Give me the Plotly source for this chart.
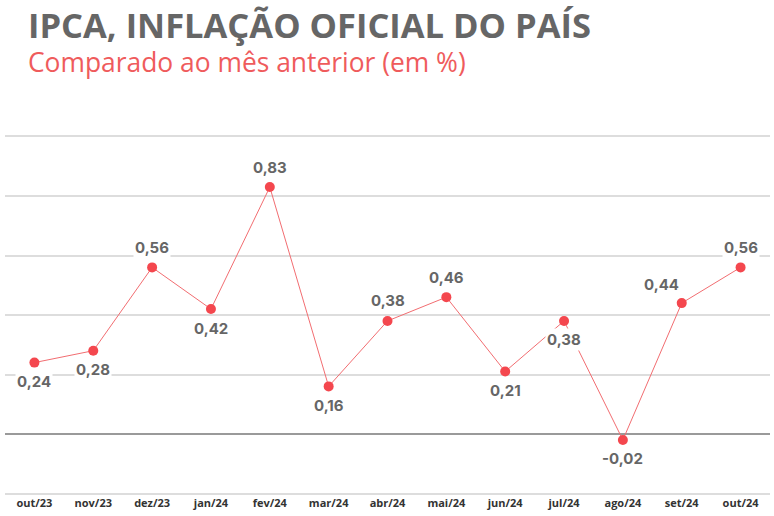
import plotly.graph_objects as go

months = ["out/23", "nov/23", "dez/23", "jan/24", "fev/24", "mar/24", "abr/24",
          "mai/24", "jun/24", "jul/24", "ago/24", "set/24", "out/24"]
ipca = [0.24, 0.28, 0.56, 0.42, 0.83, 0.16, 0.38, 0.46, 0.21, 0.38, -0.02, 0.44, 0.56]
label_side = ["below", "below", "above", "below", "above", "below", "above",
              "above", "below", "below", "below", "above-left", "above"]

title_text = "IPCA, INFLAÇÃO OFICIAL DO PAÍS"
subtitle_text = "Comparado ao mês anterior (em %)"

W, H = 774, 516
ML, MR, MT, MB = 5, 4, 135, 21
PW, PH = W - ML - MR, H - MT - MB


def px_x(x):
    return (x - ML) / PW


def px_y(y):
    return (H - MB - y) / PH


fig = go.Figure()
fig.add_trace(go.Scatter(
    x=months, y=ipca, mode="lines+markers",
    line=dict(color="#f26d71", width=1),
    marker=dict(color="#f4474e", size=10),
    hoverinfo="skip", showlegend=False,
))

offsets = {"below": (0, -19), "above": (0, 20), "above-left": (-20, 19)}
for m, v, side in zip(months, ipca, label_side):
    dx, dy = offsets[side]
    fig.add_annotation(
        x=m, y=v, xref="x", yref="y", text=f"{v:.2f}".replace(".", ","),
        showarrow=False, xshift=dx, yshift=dy,
        font=dict(family="Inter, Open Sans, sans-serif", size=15, color="#666666", weight="bold"),
        bgcolor="white", borderpad=1,
    )

fig.add_annotation(
    x=px_x(27), y=px_y(0), xref="paper", yref="paper", xanchor="left", yanchor="top",
    align="left", showarrow=False, borderpad=0,
    text=(f"<span style='font-size:34.5px;color:#666666'><b>{title_text}</b></span>"
          f"<br><span style='color:#ef5b5c'>{subtitle_text}</span>"),
    font=dict(family="Open Sans, sans-serif", size=26.4, color="#ef5b5c"),
)

fig.update_layout(
    width=W, height=H,
    margin=dict(l=ML, r=MR, t=MT, b=MB),
    paper_bgcolor="white", plot_bgcolor="white",
    xaxis=dict(
        type="category", range=[-0.5, 12.5], showgrid=False, zeroline=False,
        showline=False, ticks="",
        tickfont=dict(family="Open Sans, sans-serif", size=11, color="#333333", weight="bold"),
    ),
    yaxis=dict(
        range=[-0.205, 1.005], tick0=0, dtick=0.2, showticklabels=False,
        showgrid=True, gridcolor="#dddddd", gridwidth=1.5,
        zeroline=True, zerolinecolor="#9a9a9a", zerolinewidth=1.5,
        showline=False,
    ),
)

fig.write_html("out.html", config={"displayModeBar": False},
               post_script="document.body.style.margin='0';")
